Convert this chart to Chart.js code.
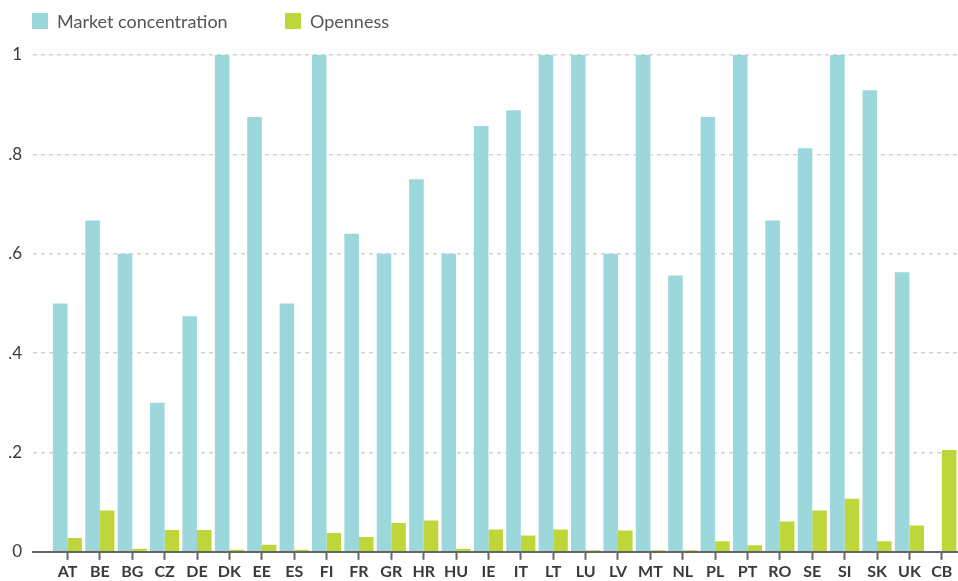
<!DOCTYPE html>
<html>
<head>
<meta charset="utf-8">
<script src="https://cdn.jsdelivr.net/npm/chart.js@4"></script>
<style>
  html, body { margin: 0; padding: 0; background: #fff; }
  #wrap { width: 958px; height: 581px; position: relative; }
</style>
</head>
<body>
<div id="wrap"><canvas id="chart"></canvas></div>
<script>
const countries = ['AT','BE','BG','CZ','DE','DK','EE','ES','FI','FR','GR','HR','HU','IE',
                   'IT','LT','LU','LV','MT','NL','PL','PT','RO','SE','SI','SK','UK','CB'];
const concentration = [0.5, 0.667, 0.6, 0.3, 0.474, 1, 0.875, 0.5, 1, 0.64, 0.6, 0.75, 0.6, 0.857,
                       0.889, 1, 1, 0.6, 1, 0.556, 0.875, 1, 0.667, 0.8125, 1, 0.929, 0.5625, 0];
const openness = [0.028, 0.083, 0.006, 0.044, 0.044, 0.004, 0.014, 0.004, 0.038, 0.03, 0.058, 0.063, 0.006, 0.045,
                  0.033, 0.045, 0.003, 0.043, 0.003, 0.003, 0.021, 0.013, 0.061, 0.083, 0.107, 0.021, 0.053, 0.205];
const yTicks = [0, 0.2, 0.4, 0.6, 0.8, 1];
const yTickLabels = ['0', '.2', '.4', '.6', '.8', '1'];
const seriesNames = ['Market concentration', 'Openness'];
const colors = ['#9bd7db', '#bed63a'];

// legend drawn by hand so the spacing matches
const topLegend = {
  id: 'topLegend',
  afterDraw(chart) {
    const ctx = chart.ctx;
    const xs = [32, 285];
    ctx.save();
    ctx.font = '18px Lato';
    ctx.textBaseline = 'middle';
    chart.data.datasets.forEach((ds, i) => {
      ctx.fillStyle = ds.backgroundColor;
      ctx.fillRect(xs[i], 13, 16, 16);
      ctx.fillStyle = '#555';
      ctx.fillText(ds.label, xs[i] + 25, 22);
    });
    ctx.restore();
  }
};

const toPoints = vals => vals.map((v, i) => ({ x: i, y: v }));

new Chart(document.getElementById('chart'), {
  type: 'bar',
  data: {
    datasets: [
      { label: seriesNames[0], data: toPoints(concentration), backgroundColor: colors[0] },
      { label: seriesNames[1], data: toPoints(openness), backgroundColor: colors[1] }
    ]
  },
  options: {
    responsive: true,
    maintainAspectRatio: false,
    animation: false,
    categoryPercentage: 0.9,
    barPercentage: 1.0,
    layout: { padding: { top: 55, right: 0, bottom: -2, left: 0 } },
    plugins: { legend: { display: false }, tooltip: { enabled: false } },
    scales: {
      x: {
        type: 'linear',
        offset: false,
        min: -1.065,
        max: 27.5,
        afterBuildTicks: s => { s.ticks = countries.map((c, i) => ({ value: i })); },
        ticks: {
          autoSkip: false,
          maxRotation: 0,
          padding: 2,
          color: '#3a3a3a',
          font: { family: 'Lato', size: 16, weight: 'bold' },
          callback: v => countries[v]
        },
        grid: { offset: false, drawOnChartArea: false, drawTicks: true, tickLength: 8, tickWidth: 2, tickColor: '#666' },
        border: { display: true, color: '#666', width: 2 }
      },
      y: {
        min: 0,
        max: 1,
        afterBuildTicks: s => { s.ticks = yTicks.map(v => ({ value: v })); },
        afterFit: s => { s.width = 33; },
        ticks: {
          padding: 11,
          color: '#3a3a3a',
          font: { family: 'Lato', size: 17 },
          callback: v => yTickLabels[yTicks.indexOf(v)]
        },
        grid: { drawTicks: false, color: '#d2d2d2', lineWidth: 1.5 },
        border: { display: false, dash: [4, 4] }
      }
    }
  },
  plugins: [topLegend]
});
</script>
</body>
</html>
